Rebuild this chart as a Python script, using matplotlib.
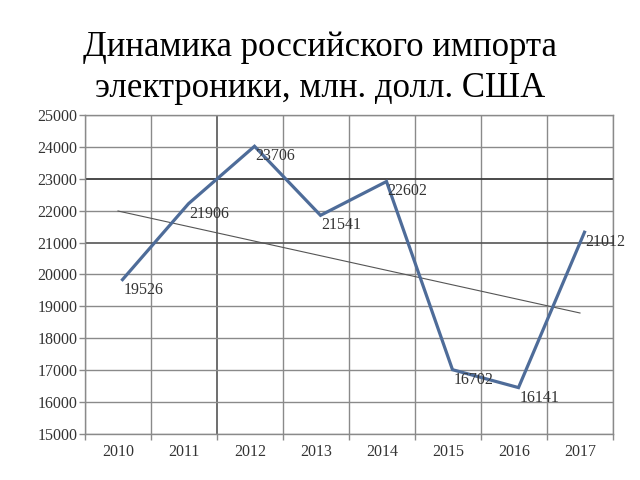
import numpy as np
import matplotlib
matplotlib.use("Agg")
import matplotlib.pyplot as plt
from matplotlib.transforms import offset_copy

years = ["2010", "2011", "2012", "2013", "2014", "2015", "2016", "2017"]
imports = [19526, 21906, 23706, 21541, 22602, 16702, 16141, 21012]
y_ticks = [15000, 16000, 17000, 18000, 19000, 20000, 21000, 22000, 23000, 24000, 25000]
title = "Динамика российского импорта\nэлектроники, млн. долл. США"

plt.rcParams['font.family'] = ['Liberation Serif', 'DejaVu Serif']

fig = plt.figure(figsize=(6.4, 4.8), dpi=100)
ax = fig.add_axes([85/640, 1-434/480, (613-85)/640, (434-115)/480])

x = np.arange(len(years))
grid_c = "#8a8a8a"

ax.set_xlim(-0.5, len(years)-0.5)
ax.set_ylim(y_ticks[0], y_ticks[-1])
ax.set_yticks(y_ticks)
ax.set_yticklabels([str(v) for v in y_ticks], fontsize=11.5, color="#333333")
ax.set_xticks(np.arange(-0.5, len(years), 1.0))
ax.set_xticklabels([])
ax.set_xticks(x, minor=True)
ax.set_xticklabels(years, minor=True, fontsize=11.5, color="#333333")
ax.tick_params(axis='x', which='major', length=4, color=grid_c, width=1)
ax.tick_params(axis='x', which='minor', length=0, pad=7)
ax.tick_params(axis='y', length=4, color=grid_c, width=1, pad=1.5)
ax.grid(True, which='major', color=grid_c, linewidth=1)
for s in ax.spines.values():
    s.set_color(grid_c)
    s.set_linewidth(1)
ax.set_axisbelow(True)

for gl, v in zip(ax.get_ygridlines(), y_ticks):
    if v == 23000:
        gl.set_color("#3a3a3a")
        gl.set_linewidth(1.3)
    elif v == 21000:
        gl.set_color("#555555")
        gl.set_linewidth(1.2)
xg = ax.get_xgridlines()
xg[2].set_color("#555555")
xg[2].set_linewidth(1.2)

# trend line
k, b = np.polyfit(x, imports, 1)
ax.plot(x, k*x + b, color="#555555", linewidth=0.8)

# main line (slightly offset as in reference)
shifted = offset_copy(ax.transData, fig=fig, x=4.5, y=10, units='dots')
ax.plot(x, imports, color="#4E6C99", linewidth=2.3, transform=shifted,
        solid_joinstyle='miter', clip_on=False)

for xi, v in zip(x, imports):
    ax.annotate(str(v), (xi, v), xycoords=shifted, xytext=(1, -10),
                textcoords='offset pixels', ha='left', va='center',
                fontsize=11.5, color="#333333", annotation_clip=False)

fig.text(0.5, 1-68/480, title, ha='center', va='center', fontsize=25,
         linespacing=1.3, color="black")

fig.savefig("out.png", dpi=100)
